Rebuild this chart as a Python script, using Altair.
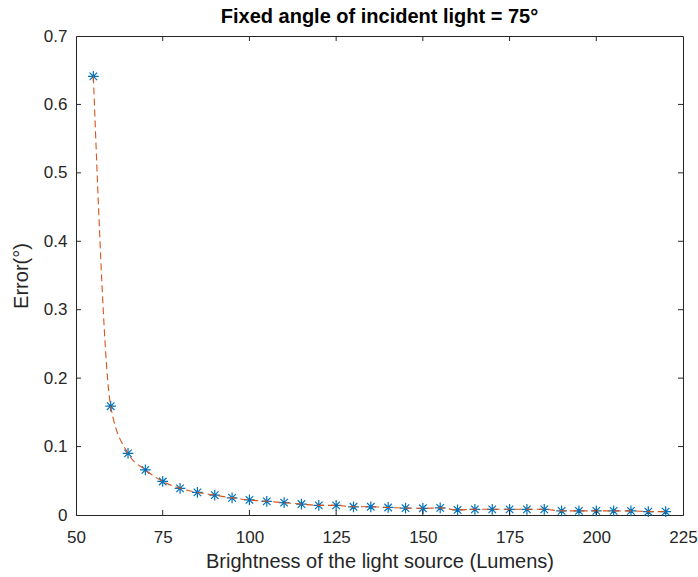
import altair as alt
import pandas as pd

brightness = list(range(55, 225, 5))
error = [0.641, 0.159, 0.090, 0.066, 0.049, 0.039, 0.033, 0.029, 0.025, 0.022,
         0.020, 0.018, 0.016, 0.014, 0.014, 0.012, 0.012, 0.011, 0.0100, 0.0098,
         0.0104, 0.0075, 0.0083, 0.0083, 0.0083, 0.0083, 0.0083, 0.0060, 0.0060,
         0.0060, 0.0060, 0.0060, 0.0050, 0.0050]
x_ticks = [50, 75, 100, 125, 150, 175, 200, 225]
y_ticks = [0, 0.1, 0.2, 0.3, 0.4, 0.5, 0.6, 0.7]

W, H = 607, 479
TL = 5
AX = "#262626"
FONT = "Liberation Sans"

df = pd.DataFrame({"b": brightness, "e": error})
xt = pd.DataFrame({"t": x_ticks[1:-1]})
yt = pd.DataFrame({"t": y_ticks[1:-1]})

xs = alt.Scale(domain=[50, 225], nice=False, zero=False)
ys = alt.Scale(domain=[0, 0.7], nice=False)

xaxis = alt.Axis(values=x_ticks, title="Brightness of the light source (Lumens)", grid=False,
                 ticks=False, labelPadding=14, titlePadding=6, labelFlush=False)
yaxis = alt.Axis(values=y_ticks, title="Error(°)", grid=False, ticks=False, labelPadding=9,
                 titlePadding=12, format="~g", labelFlush=False)

pts = alt.Chart(df).mark_point(
    shape="M-1,0L1,0M0,-1L0,1M-0.7,-0.7L0.7,0.7M-0.7,0.7L0.7,-0.7",
    filled=False, size=115, stroke="#0072BD", strokeWidth=1.2, opacity=1
).encode(x=alt.X("b:Q", scale=xs, axis=xaxis), y=alt.Y("e:Q", scale=ys, axis=yaxis))

line = alt.Chart(df).mark_line(
    color="#D95319", strokeWidth=1.1, strokeDash=[7, 4], interpolate="monotone"
).encode(x=alt.X("b:Q", scale=xs), y=alt.Y("e:Q", scale=ys))

tick_style = dict(color=AX, strokeWidth=1)
bot = alt.Chart(xt).mark_rule(**tick_style).encode(
    x=alt.X("t:Q", scale=xs), y=alt.value(H), y2=alt.value(H - TL))
top = alt.Chart(xt).mark_rule(**tick_style).encode(
    x=alt.X("t:Q", scale=xs), y=alt.value(0), y2=alt.value(TL))
left = alt.Chart(yt).mark_rule(**tick_style).encode(
    y=alt.Y("t:Q", scale=ys), x=alt.value(0), x2=alt.value(TL))
right = alt.Chart(yt).mark_rule(**tick_style).encode(
    y=alt.Y("t:Q", scale=ys), x=alt.value(W), x2=alt.value(W - TL))

chart = alt.layer(pts, line, bot, top, left, right).properties(
    width=W, height=H,
    background="white",
    title=alt.TitleParams("Fixed angle of incident light = 75°", font=FONT, fontSize=20,
                          fontWeight="bold", color="#000000", anchor="middle", offset=0),
    autosize=alt.AutoSizeParams(type="none"),
    padding={"left": 76, "top": 36, "right": 15, "bottom": 62},
).configure_view(stroke=AX, strokeWidth=1).configure_axis(
    domainColor=AX, domainWidth=1, labelColor=AX, titleColor=AX, labelFont=FONT,
    titleFont=FONT, labelFontSize=17, titleFontSize=20, titleFontWeight="normal"
)

chart.save("out.html", embed_options={"renderer": "svg", "actions": False})
